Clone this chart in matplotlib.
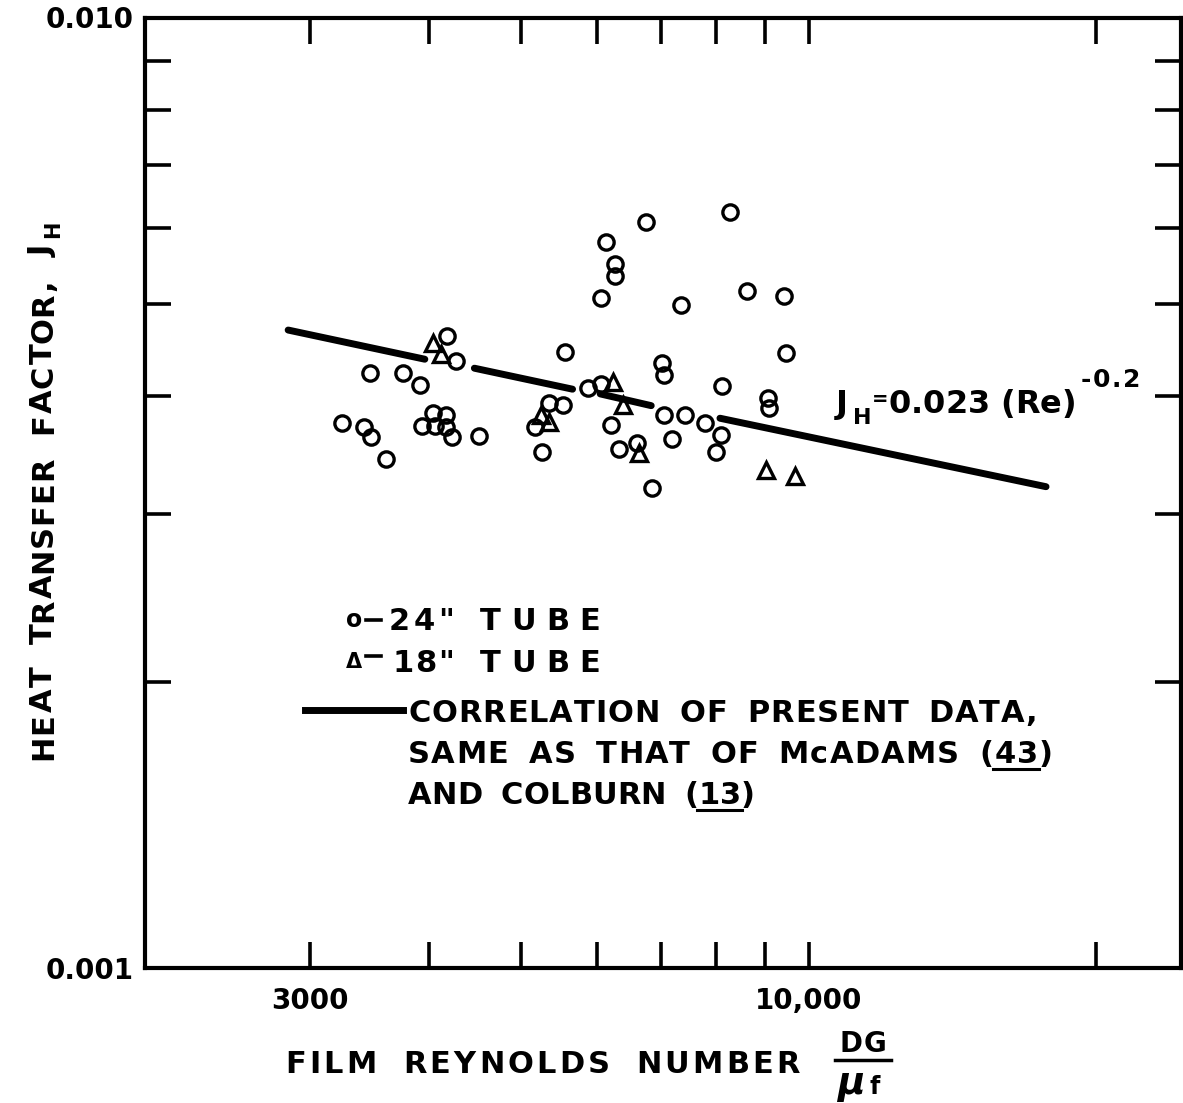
import matplotlib
matplotlib.use('Agg')
import matplotlib.pyplot as plt
from matplotlib.lines import Line2D

plt.rcParams['font.family'] = ['DejaVu Sans']
plt.rcParams['font.weight'] = 'bold'
plt.rcParams['mathtext.fontset'] = 'dejavusans'
plt.rcParams['mathtext.default'] = 'bf'

# ---------------- data ----------------
re_24 = [8273, 6754, 6127, 6271, 6271, 6059, 8614, 9433, 7342, 4183,
         4271, 5553, 9481, 7020, 7063, 3466, 3762, 3911, 8124, 5868,
         6059, 9058, 9089, 5347, 5535, 7051, 7425, 7780, 8089, 7992,
         7200, 6207, 6608, 6332, 6852, 5165, 5260, 3240, 3421, 3481,
         3610, 4042, 4173, 3938, 4059, 4173, 4231, 4514]
jh_24 = [0.00625, 0.00610, 0.00581, 0.00551, 0.00534, 0.00507, 0.00516, 0.00509, 0.00498, 0.00462,
         0.00435, 0.00445, 0.00444, 0.00433, 0.00421, 0.00423, 0.00423, 0.00411, 0.00410, 0.00408,
         0.00412, 0.00398, 0.00388, 0.00393, 0.00391, 0.00382, 0.00382, 0.00374, 0.00364, 0.00349,
         0.00360, 0.00373, 0.00357, 0.00352, 0.00320, 0.00371, 0.00349, 0.00374, 0.00371, 0.00362,
         0.00343, 0.00384, 0.00382, 0.00372, 0.00372, 0.00371, 0.00362, 0.00363]

re_18 = [4042, 4119, 6233, 6385, 5237, 5347, 6637, 9034, 9681]
jh_18 = [0.00454, 0.00443, 0.00414, 0.00391, 0.00382, 0.00375, 0.00348, 0.00334, 0.00329]

# correlation line J_H = 0.023 Re^-0.2, drawn in broken segments as in the original
corr_re_start = [2848, 4464, 6048, 8075]
corr_re_end = [3961, 5658, 6841, 17739]
corr_jh_start = [0.004690, 0.004276, 0.004018, 0.003788]
corr_jh_end = [0.004370, 0.004064, 0.003905, 0.003209]

x_major = [3000, 10000]
x_major_labels = ['3000', '10,000']
x_minor = [4000, 5000, 6000, 7000, 8000, 9000, 20000]
y_major = [0.001, 0.010]
y_major_labels = ['0.001', '0.010']
y_minor = [0.002, 0.003, 0.004, 0.005, 0.006, 0.007, 0.008, 0.009]

# ---------------- figure ----------------
W, H = 1183, 1103
fig = plt.figure(figsize=(W / 100, H / 100), dpi=100)
fig.patch.set_facecolor('white')
renderer = fig.canvas.get_renderer()


def px(x, y):
    return (x / W, 1 - y / H)


def glyph_w(ch, size):
    t = fig.text(0, 0, ch, fontsize=size, fontweight='bold')
    w = t.get_window_extent(renderer).width
    t.remove()
    return w


def lettered(s, size, start, end, base, vertical=False, space_em=0.6):
    """Hand-lettering style: spread glyphs evenly so the string spans start..end.
    Returns the (position, width) of every character."""
    widths = [size * 100 / 72 * space_em if c == ' ' else glyph_w(c, size) for c in s]
    span = (end - start) if not vertical else (start - end)
    track = (span - sum(widths)) / max(len(s) - 1, 1)
    pos = start
    placed = []
    for c, w in zip(s, widths):
        placed.append((pos, w))
        if c != ' ':
            if not vertical:
                fig.text(pos / W, 1 - base / H, c, fontsize=size, fontweight='bold',
                         ha='left', va='baseline')
            else:
                fig.text(base / W, 1 - pos / H, c, fontsize=size, fontweight='bold',
                         rotation=90, rotation_mode='anchor', ha='left', va='baseline')
        pos = pos + (w + track) if not vertical else pos - (w + track)
    return placed


ax = fig.add_axes([145 / W, 1 - 968 / H, (1181 - 145) / W, (968 - 17.5) / H])
ax.set_xscale('log')
ax.set_yscale('log')
ax.set_xlim(2016, 24570)
ax.set_ylim(0.001, 0.010)

ax.set_xticks(x_major)
ax.set_xticklabels(x_major_labels)
ax.set_xticks(x_minor, minor=True)
ax.set_xticklabels([''] * len(x_minor), minor=True)
ax.set_yticks(y_major)
ax.set_yticklabels(y_major_labels)
ax.set_yticks(y_minor, minor=True)
ax.set_yticklabels([''] * len(y_minor), minor=True)

ax.tick_params(which='both', direction='in', top=True, right=True,
               length=19, width=2.6, color='black')
ax.tick_params(axis='x', which='major', labelsize=20, pad=14)
ax.tick_params(axis='y', which='major', labelsize=20, pad=8)
for lab in ax.get_xticklabels() + ax.get_yticklabels():
    lab.set_fontweight('bold')

for sp in ax.spines.values():
    sp.set_linewidth(3)
    sp.set_color('black')

# data points
ax.plot(re_24, jh_24, linestyle='none', marker='o', ms=11,
        mfc='none', mec='black', mew=2.4)
ax.plot(re_18, jh_18, linestyle='none', marker='^', ms=12,
        mfc='none', mec='black', mew=2.4)

# correlation line segments
for rs, re_, js, je in zip(corr_re_start, corr_re_end, corr_jh_start, corr_jh_end):
    ax.plot([rs, re_], [js, je], color='black', lw=5, solid_capstyle='round')

# equation label  J_H = 0.023 (Re)^-0.2
fig.text(*px(836, 413), 'J', fontsize=23, fontweight='bold', ha='left', va='baseline')
fig.text(*px(853, 424), 'H', fontsize=16, fontweight='bold', ha='left', va='baseline')
fig.text(*px(872, 399), '=', fontsize=14, fontweight='bold', ha='left', va='center')
lettered('0.023 (Re)', 23, 888, 1076, 413, space_em=0.3)
lettered('-0.2', 18, 1081, 1140, 387)

# y axis label
lettered('HEAT TRANSFER FACTOR, J', 22, 760, 246, 52, vertical=True, space_em=0.65)
fig.text(*px(59, 238), 'H', fontsize=15, fontweight='bold', rotation=90,
         rotation_mode='anchor', ha='left', va='baseline')

# x axis label
lettered('FILM REYNOLDS NUMBER', 22, 285, 800, 1073, space_em=0.65)
lettered('DG', 20, 840, 886, 1052)
fig.add_artist(Line2D([835 / W, 891 / W], [1 - 1060 / H] * 2,
                      color='black', lw=2.5))
fig.text(*px(837, 1094), 'μ', fontsize=27, fontweight='bold', style='italic',
         ha='left', va='baseline')
fig.text(*px(869, 1094), 'f', fontsize=17, fontweight='bold',
         ha='left', va='baseline')

# legend (hand lettered in the original)
fs_leg = 22
fig.text(*px(346, 627), 'o', fontsize=17, fontweight='bold', ha='left', va='baseline')
fig.add_artist(Line2D([366 / W, 381 / W], [1 - 620 / H] * 2, color='black', lw=2.6))
lettered('24"', fs_leg, 389, 454, 630)
lettered('TUBE', fs_leg, 480, 600, 630)
fig.text(*px(346, 668), 'Δ', fontsize=15, fontweight='bold', ha='left', va='baseline')
fig.add_artist(Line2D([366 / W, 381 / W], [1 - 656 / H] * 2, color='black', lw=2.6))
lettered('18"', fs_leg, 392, 454, 672)
lettered('TUBE', fs_leg, 480, 600, 672)

fig.add_artist(Line2D([305 / W, 403 / W], [1 - 710 / H] * 2,
                      color='black', lw=5))
lettered('CORRELATION OF PRESENT DATA,', fs_leg, 408, 1037, 722)


def underlined(s, start, end, base, ref):
    placed = lettered(s, fs_leg, start, end, base)
    i = s.rindex(ref)
    x0 = placed[i][0]
    x1 = placed[i + len(ref) - 1][0] + placed[i + len(ref) - 1][1]
    fig.add_artist(Line2D([(x0 - 1) / W, (x1 + 1) / W], [1 - (base + 6) / H] * 2,
                          color='black', lw=2.2))


underlined('SAME AS THAT OF McADAMS (43)', 408, 1053, 763, '43')
underlined('AND COLBURN (13)', 408, 755, 804, '13')

fig.savefig('out.png', dpi=100, facecolor='white')
